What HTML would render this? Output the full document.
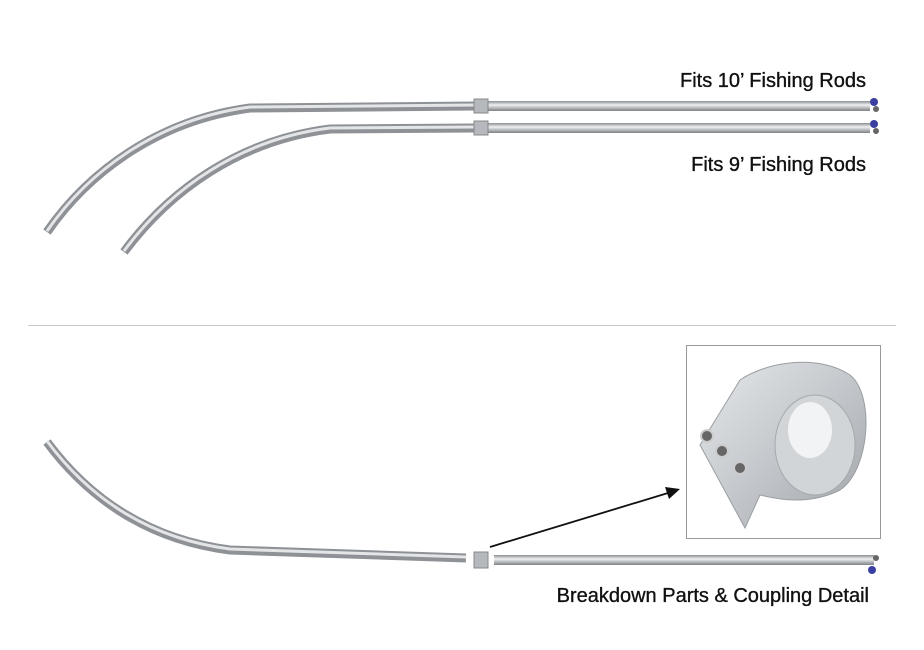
<!DOCTYPE html>
<html><head><meta charset="utf-8"><style>
html,body{margin:0;padding:0;background:#fff;}
svg{display:block}
text{font-family:"Liberation Sans",sans-serif;font-size:20px;fill:#111;stroke:#111;stroke-width:0.35;}
</style></head><body>
<svg width="924" height="650" viewBox="0 0 924 650" xmlns="http://www.w3.org/2000/svg">
<defs>
<linearGradient id="g" x1="0" y1="0" x2="0" y2="1"><stop offset="0" stop-color="#8a8e92"/><stop offset=".4" stop-color="#eef0f2"/><stop offset="1" stop-color="#7d8185"/></linearGradient>
<linearGradient id="cg" x1="0" y1="0" x2="1" y2="1"><stop offset="0" stop-color="#e6e8ea"/><stop offset=".5" stop-color="#c4c8cc"/><stop offset="1" stop-color="#9fa3a7"/></linearGradient>
</defs>
<g fill="none" stroke-linecap="butt">
<path d="M47,232 C90,170 160,120 250,108 L475,106" stroke="#8e9296" stroke-width="9"/>
<path d="M47,231 C90,169 160,119 250,107 L475,105" stroke="#e3e5e7" stroke-width="3"/>
<path d="M124,252 C170,190 240,140 330,129 L475,128" stroke="#8e9296" stroke-width="9"/>
<path d="M124,251 C170,189 240,139 330,128 L475,127" stroke="#e3e5e7" stroke-width="3"/>
<path d="M47,442 C90,500 150,540 230,550 L466,558" stroke="#8e9296" stroke-width="9"/>
<path d="M47,441 C90,499 150,539 230,549 L466,557" stroke="#e3e5e7" stroke-width="3"/>
</g>
<rect x="488" y="101" width="382" height="10" fill="url(#g)"/>
<rect x="488" y="123" width="382" height="10" fill="url(#g)"/>
<rect x="494" y="555" width="380" height="10" fill="url(#g)"/>
<rect x="474" y="99" width="14" height="14" fill="#b5b9bd" stroke="#888" stroke-width="1"/>
<rect x="474" y="121" width="14" height="14" fill="#b5b9bd" stroke="#888" stroke-width="1"/>
<rect x="474" y="552" width="14" height="16" fill="#b5b9bd" stroke="#888" stroke-width="1"/>
<circle cx="874" cy="102" r="4" fill="#3a3fa0"/><circle cx="876" cy="109" r="3" fill="#666"/>
<circle cx="874" cy="124" r="4" fill="#3a3fa0"/><circle cx="876" cy="131" r="3" fill="#666"/>
<circle cx="876" cy="558" r="3" fill="#666"/><circle cx="872" cy="570" r="4" fill="#3a3fa0"/>
<line x1="28" y1="325.5" x2="896" y2="325.5" stroke="#c8c8c8" stroke-width="1"/>
<rect x="686.5" y="345.5" width="194" height="193" fill="#fff" stroke="#999" stroke-width="1"/>
<path d="M700,445 L740,380 C770,360 820,355 850,375 C875,395 870,470 840,490 C810,505 780,500 760,495 L745,528 Z" fill="url(#cg)" stroke="#9a9ea2"/>
<ellipse cx="815" cy="445" rx="40" ry="50" fill="#d2d5d8" stroke="#a5a9ad"/>
<ellipse cx="810" cy="430" rx="22" ry="28" fill="#f2f3f4"/>
<circle cx="707" cy="436" r="6" fill="#666" stroke="#ccc" stroke-width="2"/>
<circle cx="722" cy="451" r="6" fill="#666" stroke="#ccc" stroke-width="2"/>
<circle cx="740" cy="468" r="6" fill="#666" stroke="#ccc" stroke-width="2"/>
<line x1="490" y1="547" x2="668" y2="493" stroke="#111" stroke-width="1.8"/>
<polygon points="680,489 665,487 669,499" fill="#111"/>
<text x="866" y="87" text-anchor="end">Fits 10’ Fishing Rods</text>
<text x="866" y="171" text-anchor="end">Fits 9’ Fishing Rods</text>
<text x="869" y="602" text-anchor="end">Breakdown Parts &amp; Coupling Detail</text>
</svg>
</body></html>
